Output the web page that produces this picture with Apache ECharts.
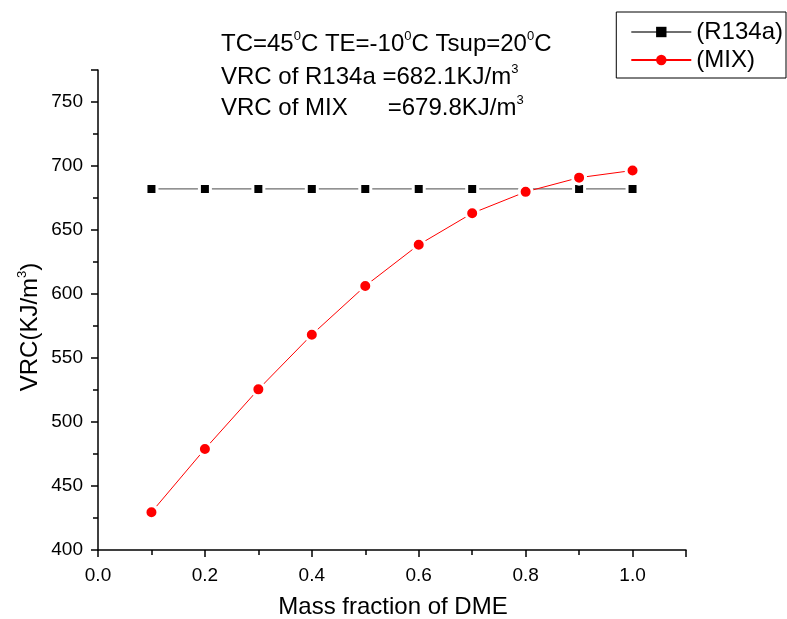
<!DOCTYPE html>
<html>
<head>
<meta charset="utf-8">
<script src="https://cdn.jsdelivr.net/npm/echarts@6/dist/echarts.min.js"></script>
<style>
  html, body { margin: 0; padding: 0; background: #fff; }
  #chart { width: 787px; height: 619px; }
</style>
</head>
<body>
<div id="chart"></div>
<script>
// mass fraction of DME
var xVals = [0.1, 0.2, 0.3, 0.4, 0.5, 0.6, 0.7, 0.8, 0.9, 1.0];
// VRC values
var r134aVals = [682.1, 682.1, 682.1, 682.1, 682.1, 682.1, 682.1, 682.1, 682.1, 682.1];
var mixVals = [429.5, 478.9, 525.5, 568.2, 606.3, 638.5, 663.1, 679.8, 690.9, 696.5];
var seriesNames = ['(R134a)', '(MIX)'];

function pairs(xs, ys) {
    var out = [];
    for (var i = 0; i < xs.length; i++) {
        out.push([xs[i], ys[i]]);
    }
    return out;
}

var font = 'Arial, "Liberation Sans", sans-serif';
var supStyle = { fontSize: 13, fontFamily: font, fill: '#000', verticalAlign: 'top', lineHeight: 28 };

// text block top-left of the plot
function note(top, txt) {
    return {
        type: 'text', left: 221, top: top,
        style: {
            text: txt,
            font: '24px ' + font, fill: '#000',
            lineHeight: 28,
            rich: { sup: supStyle }
        }
    };
}

var myChart = echarts.init(document.getElementById('chart'));
var option = {
    backgroundColor: '#fff',
    animation: false,
    grid: { left: 98, top: 70, width: 588, height: 480 },
    legend: {
        data: seriesNames,
        orient: 'vertical',
        right: 1,
        top: 12,
        padding: [8, 3, 6, 14],
        itemGap: 4,
        itemWidth: 60,
        itemHeight: 13,
        borderColor: '#000',
        borderWidth: 1,
        itemStyle: { borderWidth: 0 },
        textStyle: { fontSize: 24, fontFamily: font, color: '#000' }
    },
    xAxis: {
        type: 'value',
        min: 0,
        max: 1.1,
        interval: 0.2,
        axisLine: { show: true, onZero: false, lineStyle: { color: '#000', width: 1.5 } },
        axisTick: { show: true, inside: false, length: 7, lineStyle: { color: '#000', width: 1.5 } },
        minorTick: { show: true, splitNumber: 2, length: 5, lineStyle: { color: '#000', width: 1.5 } },
        axisLabel: {
            fontSize: 19, fontFamily: font, color: '#000', margin: 16,
            formatter: function (v) { return v > 1.05 ? '' : v.toFixed(1); }
        },
        splitLine: { show: false }
    },
    yAxis: {
        type: 'value',
        min: 400,
        max: 775,
        interval: 50,
        axisLine: { show: true, lineStyle: { color: '#000', width: 1.5 } },
        axisTick: { show: true, inside: false, length: 7, lineStyle: { color: '#000', width: 1.5 } },
        minorTick: { show: true, splitNumber: 2, length: 5, lineStyle: { color: '#000', width: 1.5 } },
        axisLabel: {
            fontSize: 19, fontFamily: font, color: '#000', margin: 15,
            formatter: function (v) { return v > 760 ? '' : String(v); }
        },
        splitLine: { show: false }
    },
    graphic: [
        note(30, 'TC=45{sup|0}C TE=-10{sup|0}C Tsup=20{sup|0}C'),
        note(63, 'VRC of R134a =682.1KJ/m{sup|3}'),
        note(94, 'VRC of MIX      =679.8KJ/m{sup|3}'),
        {
            // x axis title
            type: 'text', x: 393, y: 607,
            style: {
                text: 'Mass fraction of DME',
                font: '24px ' + font, fill: '#000',
                align: 'center', verticalAlign: 'middle'
            }
        },
        {
            // y axis title
            type: 'text', x: 30, y: 327, rotation: Math.PI / 2,
            style: {
                text: 'VRC(KJ/m{sup|3})',
                font: '24px ' + font, fill: '#000',
                lineHeight: 28,
                align: 'center', verticalAlign: 'middle',
                rich: { sup: supStyle }
            }
        }
    ],
    series: [
        {
            name: seriesNames[0],
            type: 'line',
            data: pairs(xVals, r134aVals),
            symbol: 'rect',
            symbolSize: 11,
            itemStyle: { color: '#000', borderColor: '#fff', borderWidth: 3 },
            lineStyle: { color: '#6f6f6f', width: 1.2 },
            z: 2
        },
        {
            name: seriesNames[1],
            type: 'line',
            data: pairs(xVals, mixVals),
            symbol: 'circle',
            symbolSize: 13,
            itemStyle: { color: '#ff0000', borderColor: '#fff', borderWidth: 3 },
            lineStyle: { color: '#ff0000', width: 1 },
            z: 3
        }
    ]
};
myChart.setOption(option);
</script>
</body>
</html>
